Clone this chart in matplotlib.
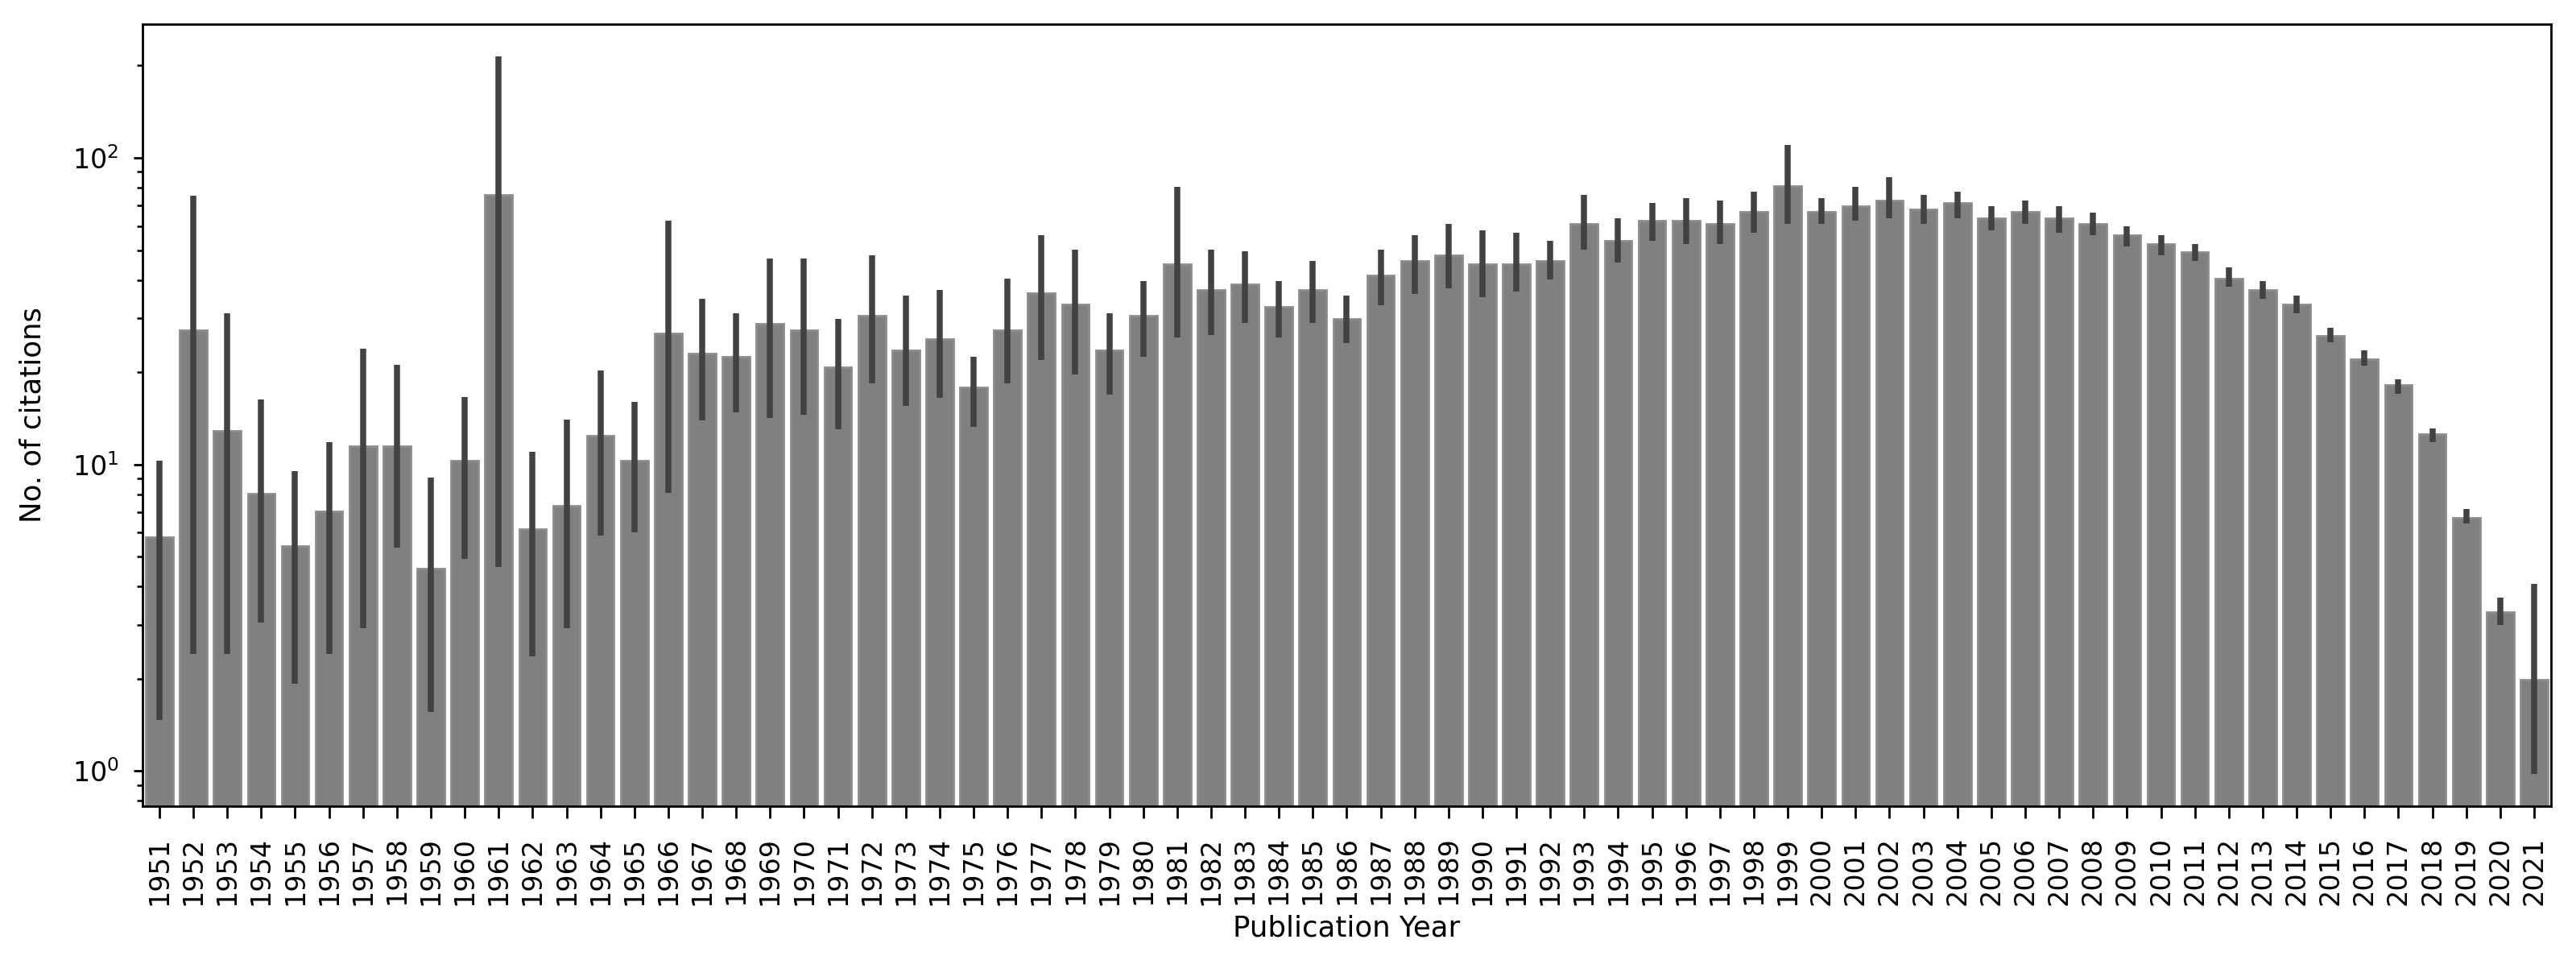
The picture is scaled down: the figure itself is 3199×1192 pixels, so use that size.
import numpy as np
import matplotlib
matplotlib.use("Agg")
import matplotlib.pyplot as plt

years = list(range(1951, 2022))

# mean citations per publication year
mean_cit = [
    5.78, 27.4, 12.9, 8.03, 5.42, 7.03, 11.5, 11.5, 4.57, 10.3,
    75.9, 6.17, 7.34, 12.4, 10.3, 26.8, 23.0, 22.5, 28.7, 27.4,
    20.7, 30.5, 23.6, 25.7, 17.8, 27.4, 36.2, 33.3, 23.6, 30.5,
    45.1, 37.1, 38.6, 32.6, 37.1, 29.8, 41.3, 46.0, 48.2, 45.1,
    45.1, 46.0, 60.9, 53.5, 62.4, 62.4, 60.9, 66.6, 81.0, 66.6,
    69.4, 72.6, 68.0, 71.1, 63.7, 66.6, 63.7, 60.9, 56.0, 52.5,
    49.3, 40.4, 37.1, 33.3, 26.3, 22.1, 18.2, 12.6, 6.71, 3.30,
    1.99,
]

# confidence interval bounds
ci_low = [
    1.47, 2.41, 2.41, 3.05, 1.93, 2.41, 2.93, 5.37, 1.56, 4.91,
    4.62, 2.36, 2.93, 5.85, 6.0, 8.09, 13.9, 14.8, 14.2, 14.5,
    13.0, 18.4, 15.5, 16.5, 13.3, 18.4, 21.9, 19.7, 16.9, 22.4,
    26.0, 26.5, 29.0, 26.0, 29.0, 24.9, 33.0, 35.9, 37.6, 35.2,
    36.7, 40.1, 50.1, 45.7, 53.5, 52.5, 52.5, 57.1, 60.9, 60.9,
    62.4, 63.7, 60.9, 63.7, 58.2, 60.9, 57.1, 56.0, 51.4, 48.2,
    46.0, 37.9, 34.8, 31.2, 25.0, 21.0, 17.0, 11.8, 6.42, 2.99,
    0.976,
]
ci_high = [
    10.3, 75.5, 31.2, 16.3, 9.49, 11.8, 23.9, 21.1, 9.07, 16.6,
    215.0, 11.0, 14.0, 20.3, 16.0, 62.4, 34.8, 31.2, 47.0, 47.0,
    29.8, 48.2, 35.5, 37.1, 22.5, 40.4, 56.0, 50.1, 31.2, 39.6,
    80.6, 50.1, 49.5, 39.6, 46.0, 35.5, 50.1, 56.0, 60.9, 58.2,
    57.1, 53.5, 75.9, 63.7, 71.1, 74.0, 72.6, 77.4, 110.0, 74.0,
    80.6, 86.4, 75.9, 77.4, 69.4, 72.6, 69.4, 66.3, 59.7, 56.0,
    52.5, 44.0, 39.6, 35.5, 28.0, 23.5, 19.0, 13.1, 7.17, 3.67,
    4.09,
]

mean_cit = np.array(mean_cit)
ci_low = np.array(ci_low)
ci_high = np.array(ci_high)
x = np.arange(len(years))

fig = plt.figure(figsize=(15.995, 5.96), dpi=200)
ax = fig.add_axes([0.0553, 0.1602, 0.9350, 0.8146])

ax.bar(x, mean_cit, width=0.8, color="#808080", edgecolor="#8c8c8c", linewidth=1.0)
ax.errorbar(x, mean_cit, yerr=[mean_cit - ci_low, ci_high - mean_cit],
            fmt="none", ecolor="#424242", elinewidth=2.7, capsize=0)

ax.set_yscale("log")
ax.set_ylim(0.768, 273)
ax.set_xlim(-0.5, len(years) - 0.5)
ax.set_xticks(x)
ax.set_xticklabels([str(y) for y in years], rotation=90)

ax.tick_params(axis="x", labelsize=12, length=5.5, width=1.0, pad=8.0)
ax.tick_params(axis="y", which="major", labelsize=12, length=4.0, width=1.0, pad=6.5)
ax.tick_params(axis="y", which="minor", length=2.5, width=0.9)
for sp in ax.spines.values():
    sp.set_linewidth(1.0)

ax.set_xlabel("Publication Year", fontsize=12.8)
ax.set_ylabel("No. of citations", fontsize=12.8)
ax.xaxis.set_label_coords(0.5, -0.138)
ax.yaxis.set_label_coords(-0.0398, 0.5)

fig.savefig("out.png", dpi=200)
